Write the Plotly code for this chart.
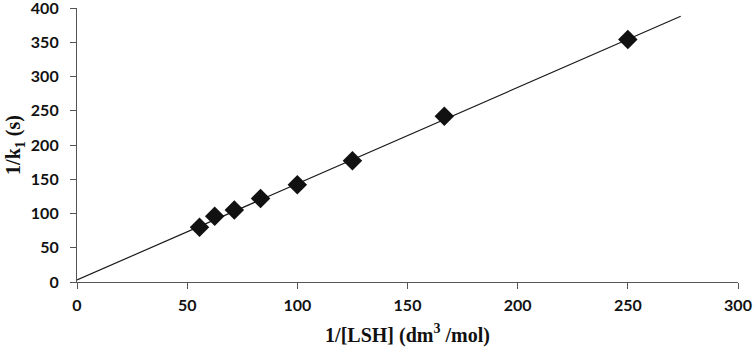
import plotly.graph_objects as go

# Data
inv_lsh = [55.6, 62.5, 71.4, 83.3, 100.0, 125.0, 166.7, 250.0]
inv_k1 = [80, 96, 105, 122, 142, 177, 242, 354]

# Linear trendline endpoints
fit_x = [0, 274]
fit_y = [3, 388]

fig = go.Figure()
fig.add_trace(go.Scatter(x=fit_x, y=fit_y, mode="lines",
                         line=dict(color="#1a1a1a", width=1.2),
                         showlegend=False, hoverinfo="skip"))
fig.add_trace(go.Scatter(x=inv_lsh, y=inv_k1, mode="markers",
                         marker=dict(symbol="diamond", size=15, color="#111111"),
                         showlegend=False))

tick_font = dict(family="Lato, 'Open Sans', sans-serif", size=16, color="#111111", weight="bold")
title_font = dict(family="'Liberation Serif', 'Times New Roman', serif", size=20, color="#111111")

fig.update_layout(
    width=754, height=350,
    margin=dict(l=77, r=16, t=8, b=68),
    paper_bgcolor="white", plot_bgcolor="white",
    xaxis=dict(range=[0, 300], tickmode="linear", tick0=0, dtick=50,
               showline=True, linecolor="#555555", linewidth=1.2,
               ticks="outside", ticklen=6, tickcolor="#555555", tickwidth=1.2,
               showgrid=False, zeroline=False, automargin=False,
               tickfont=tick_font, ticklabelstandoff=3, ticklabeloverflow="allow",
               title=dict(text="<b>1/[LSH] (dm<sup>3</sup> /mol)</b>", font=title_font, standoff=14)),
    yaxis=dict(range=[0, 400], tickmode="linear", tick0=0, dtick=50,
               showline=True, linecolor="#555555", linewidth=1.2,
               ticks="outside", ticklen=6, tickcolor="#555555", tickwidth=1.2,
               showgrid=False, zeroline=False, automargin=False,
               tickfont=tick_font, ticklabelstandoff=8, ticklabeloverflow="allow",
               title=dict(text="<b>1/k<sub>1</sub> (s)</b>", font=title_font, standoff=4)),
)

fig.write_html("out.html", config={"displayModeBar": False},
               post_script="document.body.style.margin='0';document.body.style.overflow='hidden';")
